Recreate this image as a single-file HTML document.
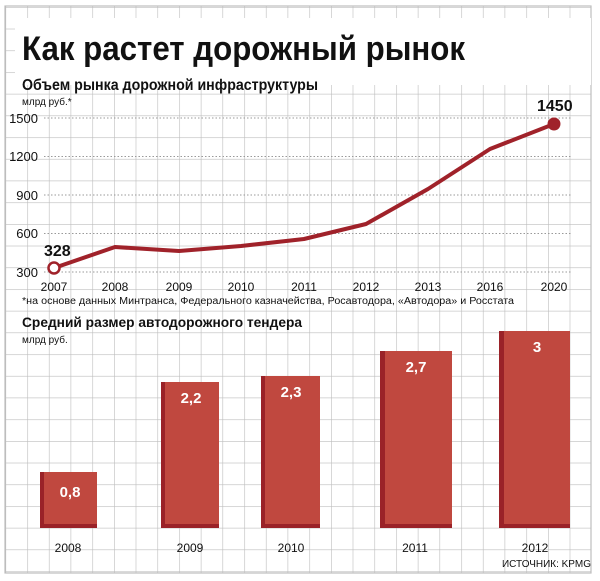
<!DOCTYPE html>
<html><head><meta charset="utf-8"><style>
body{margin:0;width:600px;height:581px;background:#fff;overflow:hidden}
svg{display:block}
text{font-family:"Liberation Sans",sans-serif}
</style></head><body>
<svg width="600" height="581" viewBox="0 0 600 581">
<defs>
<pattern id="g" x="5.5" y="7" width="21.7" height="21.7" patternUnits="userSpaceOnUse">
<path d="M0 0H21.7M0 0V21.7" stroke="#bdbdbd" stroke-width="1.2" fill="none"/>
</pattern>
</defs>
<rect x="5" y="6" width="586" height="567" fill="url(#g)"/>
<rect x="5" y="6" width="586" height="567" fill="none" stroke="#bdbdbd" stroke-width="1.2"/>
<rect x="15" y="18" width="576" height="67" fill="#fff"/>
<text x="22" y="60" font-size="34" font-weight="bold" fill="#111" textLength="443" lengthAdjust="spacingAndGlyphs">Как растет дорожный рынок</text>
<text x="22" y="90" font-size="16" font-weight="bold" fill="#111" textLength="296" lengthAdjust="spacingAndGlyphs">Объем рынка дорожной инфраструктуры</text>
<text x="22" y="105" font-size="10" fill="#111">млрд руб.*</text>
<g stroke="#999" stroke-dasharray="1.5,2" stroke-width="1">
<line x1="44" y1="118" x2="572" y2="118"/><line x1="44" y1="156.5" x2="572" y2="156.5"/>
<line x1="44" y1="195" x2="572" y2="195"/><line x1="44" y1="233.5" x2="572" y2="233.5"/>
<line x1="44" y1="272" x2="572" y2="272"/>
</g>
<g font-size="13" fill="#111" text-anchor="end">
<text x="38" y="123">1500</text><text x="38" y="161">1200</text><text x="38" y="200">900</text>
<text x="38" y="238">600</text><text x="38" y="277">300</text>
</g>
<polyline points="54,268 115,247 179,251 241,246 304,239 366,224 428,189 490,149 554,124" fill="none" stroke="#a0222a" stroke-width="4" stroke-linejoin="round"/>
<circle cx="54" cy="268" r="5.5" fill="#fff" stroke="#a0222a" stroke-width="2.5"/>
<circle cx="554" cy="124" r="6.5" fill="#a0222a"/>
<text x="44" y="256" font-size="16" font-weight="bold" fill="#111">328</text>
<text x="537" y="111" font-size="16" font-weight="bold" fill="#111">1450</text>
<g font-size="12" fill="#111" text-anchor="middle">
<text x="54" y="291">2007</text><text x="115" y="291">2008</text><text x="179" y="291">2009</text>
<text x="241" y="291">2010</text><text x="304" y="291">2011</text><text x="366" y="291">2012</text>
<text x="428" y="291">2013</text><text x="490" y="291">2016</text><text x="554" y="291">2020</text>
</g>
<text x="22" y="304" font-size="10" fill="#111" textLength="492" lengthAdjust="spacingAndGlyphs">*на основе данных Минтранса, Федерального казначейства, Росавтодора, «Автодора» и Росстата</text>
<text x="22" y="327" font-size="14" font-weight="bold" fill="#111" textLength="280" lengthAdjust="spacingAndGlyphs">Средний размер автодорожного тендера</text>
<text x="22" y="343" font-size="10" fill="#111">млрд руб.</text>
<g>
<rect x="40" y="472" width="57" height="56" fill="#c0483f"/><rect x="40" y="472" width="4" height="56" fill="#9a2228"/><rect x="40" y="524" width="57" height="4" fill="#9a2228"/>
<rect x="161" y="382" width="58" height="146" fill="#c0483f"/><rect x="161" y="382" width="4" height="146" fill="#9a2228"/><rect x="161" y="524" width="58" height="4" fill="#9a2228"/>
<rect x="261" y="376" width="59" height="152" fill="#c0483f"/><rect x="261" y="376" width="4" height="152" fill="#9a2228"/><rect x="261" y="524" width="59" height="4" fill="#9a2228"/>
<rect x="380" y="351" width="72" height="177" fill="#c0483f"/><rect x="380" y="351" width="5" height="177" fill="#9a2228"/><rect x="380" y="524" width="72" height="4" fill="#9a2228"/>
<rect x="499" y="331" width="71" height="197" fill="#c0483f"/><rect x="499" y="331" width="5" height="197" fill="#9a2228"/><rect x="499" y="524" width="71" height="4" fill="#9a2228"/>
</g>
<g font-size="15" font-weight="bold" fill="#fff" text-anchor="middle">
<text x="70" y="497">0,8</text><text x="191" y="403">2,2</text><text x="291" y="397">2,3</text>
<text x="416" y="372">2,7</text><text x="537" y="352">3</text>
</g>
<g font-size="12" fill="#111" text-anchor="middle">
<text x="68" y="552">2008</text><text x="190" y="552">2009</text><text x="291" y="552">2010</text>
<text x="415" y="552">2011</text><text x="535" y="552">2012</text>
</g>
<text x="502" y="567" font-size="10" fill="#111" textLength="89" lengthAdjust="spacingAndGlyphs">ИСТОЧНИК: KPMG</text>
</svg>
</body></html>
